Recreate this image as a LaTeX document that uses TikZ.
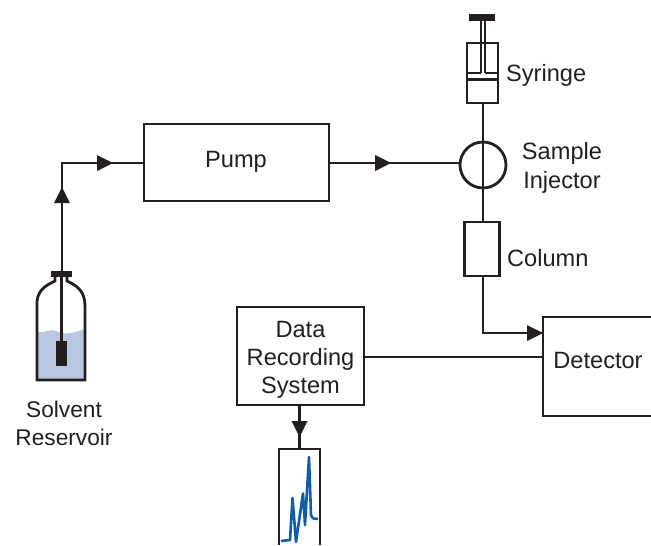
\documentclass[tikz,border=0pt]{standalone}
\usepackage{fontspec}
\setmainfont{Liberation Sans}
\usetikzlibrary{arrows.meta}
\definecolor{ink}{HTML}{231F20}
\definecolor{liquid}{HTML}{B9C6E2}
\definecolor{trace}{HTML}{0F5CA8}
\tikzset{
  wire/.style={draw=ink,line width=2.8pt,line join=miter},
  boxed/.style={draw=ink,line width=2.8pt,fill=white,inner sep=0pt,outer sep=0pt},
  hollow/.style={inner sep=0pt,outer sep=0pt},
  lab/.style={text=ink,font=\fontsize{23.6}{28}\selectfont,inner sep=0pt,align=center},
  tip/.style={fill=ink,draw=none}
}
\begin{document}
\begin{tikzpicture}[x=1pt,y=-1pt]
\useasboundingbox (0,0) rectangle (651,546);
% helper coordinates
\coordinate (corner) at (62,163);
\coordinate (turn) at (483,333);
% liquid
\path[fill=liquid] (37,331) .. controls (44,335) and (48,328) .. (56,331) .. controls (62,334) and (70,335) .. (84,329) -- (84,379) -- (37,379) -- cycle;
% bottle
\draw[wire] (55,277) -- (55,281) .. controls (44,286) and (36,292) .. (37,306) -- (37,380) -- (85,380) -- (85,306) .. controls (85,292) and (78,286) .. (67,281) -- (67,277);
\node[hollow,fill=ink,minimum width=21pt,minimum height=6.5pt] (cap) at (61.5,274) {};
\node[hollow,fill=ink,minimum width=11pt,minimum height=25pt] (dip) at (61.5,353.5) {};
% boxes
\node[boxed,minimum width=185pt,minimum height=77pt] (pump) at (236.5,162.5) {};
\node[boxed,minimum width=35pt,minimum height=54pt] (column) at (482,249) {};
\node[boxed,minimum width=127pt,minimum height=98pt] (data) at (300.5,356) {};
\node[hollow,minimum width=108pt,minimum height=99pt] (det) at (597,366.5) {};
\node[draw=ink,line width=2.8pt,circle,minimum size=46pt,inner sep=0pt,outer sep=0pt] (inj) at (483,165) {};
\node[boxed,minimum width=31pt,minimum height=60pt] (syr) at (482.5,73) {};
% connectors
\draw[wire] (cap.south -| corner) -- (corner) -- (pump.west |- corner);
\draw[wire] (dip.north) -- (cap.south);
\draw[wire] (pump.east |- corner) -- (inj.west |- corner);
\draw[wire] (syr.south -| inj.north) -- (column.north -| inj.north);
\draw[wire] (column.south -| turn) -- (turn) -- (det.west |- turn);
\draw[wire] (data.east |- 0,357) -- (det.west |- 0,357);
\draw[wire] (det.north east) -- (det.north west) -- (det.south west) -- (det.south east);
% arrowheads
\path[tip] (62,187) -- (70,203) -- (54,203) -- cycle;
\path[tip] (113,163) -- (97,155) -- (97,171) -- cycle;
\path[tip] (391,163) -- (375,155) -- (375,171) -- cycle;
\path[tip] (543,333) -- (527,325) -- (527,341) -- cycle;
\path[tip] (299.5,437) -- (291.5,421) -- (307.5,421) -- cycle;
% syringe
\node[hollow,fill=ink,minimum width=26pt,minimum height=7pt] (handle) at (482,17.5) {};
\draw[draw=ink,line width=2.2pt] (481,21) -- (481,73) (485,21) -- (485,73);
\draw[draw=ink,line width=2.2pt] (467,73) -- (481,73) (485,73) -- (498,73) (467,79.5) -- (498,79.5);
% chart
\coordinate (chartTL) at (279,449);
\coordinate (chartTR) at (320,449);
\coordinate (chartBL) at (279,545);
\coordinate (chartBR) at (320,545);
\draw[wire] (data.south -| 299.5,0) -- (299.5,449);
\draw[wire] (chartBL) -- (chartTL) -- (chartTR) -- (chartBR);
\draw[draw=trace,line width=2.6pt,line join=round] (281,541) -- (290,540) -- (292.5,498) -- (296,542) -- (303,493.5) -- (305,525) -- (309,457) -- (311,515) .. controls (312,519) and (315,519) .. (318,519);
% labels
\node[lab] (lpump) at (236,162) {Pump};
\node[lab,anchor=west] (lsyr) at (506,75) {Syringe};
\node[lab] (linj) at (562,168) {Sample\\[1.5pt]Injector};
\node[lab,anchor=west] (lcol) at (507,258) {Column};
\node[lab] (ldet) at (598,360) {Detector};
\node[lab] (ldata) at (300.5,360) {Data\\Recording\\System};
\node[lab,font=\fontsize{22.7}{28}\selectfont] (lsol) at (64,423.5) {Solvent\\Reservoir};
\end{tikzpicture}
\end{document}
